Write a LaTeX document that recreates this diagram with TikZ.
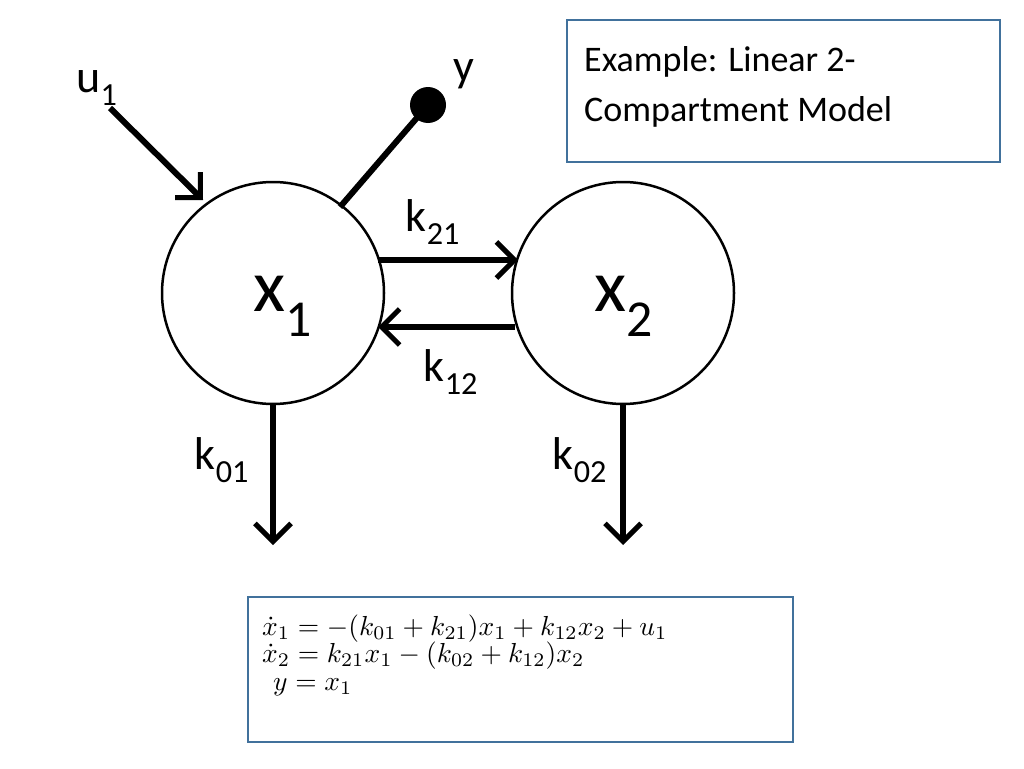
\documentclass[tikz,border=0pt]{standalone}
\usepackage{fontspec}
\setmainfont{Carlito}
\usetikzlibrary{arrows.meta}
\definecolor{boxblue}{HTML}{41719C}
\begin{document}
\begin{tikzpicture}[x=1pt,y=-1pt,
  comp/.style={circle,draw,line width=2.5pt,minimum size=222pt,inner sep=0pt},
  ctext/.style={font=\fontsize{74}{74}\selectfont,inner sep=0pt},
  flow/.style={line width=6pt,-{Straight Barb[length=18pt,width=36pt,line width=5pt]}},
  lab/.style={font=\fontsize{46}{46}\selectfont,inner sep=0pt},
  infobox/.style={draw=boxblue,line width=2pt,inner sep=0pt}]
\useasboundingbox (0,0) rectangle (1024,768);
\node[comp] (x1) at (273,293) {};
\node[comp] (x2) at (623,293) {};
\node[ctext] (t1) at (283,306) {x\textsubscript{1}};
\node[ctext] (t2) at (624,306) {x\textsubscript{2}};
\coordinate (a1) at (378,260); \coordinate (a2) at (518,260);
\coordinate (b1) at (515,327); \coordinate (b2) at (378,327);
\draw[flow] (a1) -- (a2);
\draw[flow] (b1) -- (b2);
\coordinate (u0) at (110,108); \coordinate (u2) at (203,200);
\draw[flow] (u0) -- (u2);
\coordinate (ys) at (340,207);
\node[circle,fill,minimum size=36pt,inner sep=0pt] (yd) at (428,105) {};
\draw[line width=6pt] (ys) -- (yd.center);
\coordinate (o1) at (273,405); \coordinate (o1e) at (273,545);
\coordinate (o2) at (623,405); \coordinate (o2e) at (623,545);
\draw[flow] (o1) -- (o1e);
\draw[flow] (o2) -- (o2e);
\node[lab] (lu) at (97,88) {u\textsubscript{1}};
\node[lab] (ly) at (464,74) {y};
\node[lab] (l21) at (433,222) {k\textsubscript{21}};
\node[lab] (l12) at (451,372) {k\textsubscript{12}};
\node[lab] (l01) at (222,460) {k\textsubscript{01}};
\node[lab] (l02) at (580,460) {k\textsubscript{02}};
\draw[infobox] (567,20) rectangle (1000,162);
\node[anchor=north west,align=left,font=\fontsize{36}{50}\selectfont,inner sep=0pt] (ex) at (584,46) {Example: Linear 2-\\Compartment Model};
\draw[infobox] (248,597) rectangle (793,742);
\node[anchor=north west,inner sep=0pt] (eq) at (262,612)
{\scalebox{2.75}{\begin{tabular}{@{}l@{}}
 $\dot x_1 = -(k_{01}+k_{21})x_1 + k_{12}x_2 + u_1$\\[-2pt]
 $\dot x_2 = k_{21}x_1 - (k_{02}+k_{12})x_2$\\[-2pt]
 \hspace{4pt}$y = x_1$
 \end{tabular}}};
\end{tikzpicture}
\end{document}
